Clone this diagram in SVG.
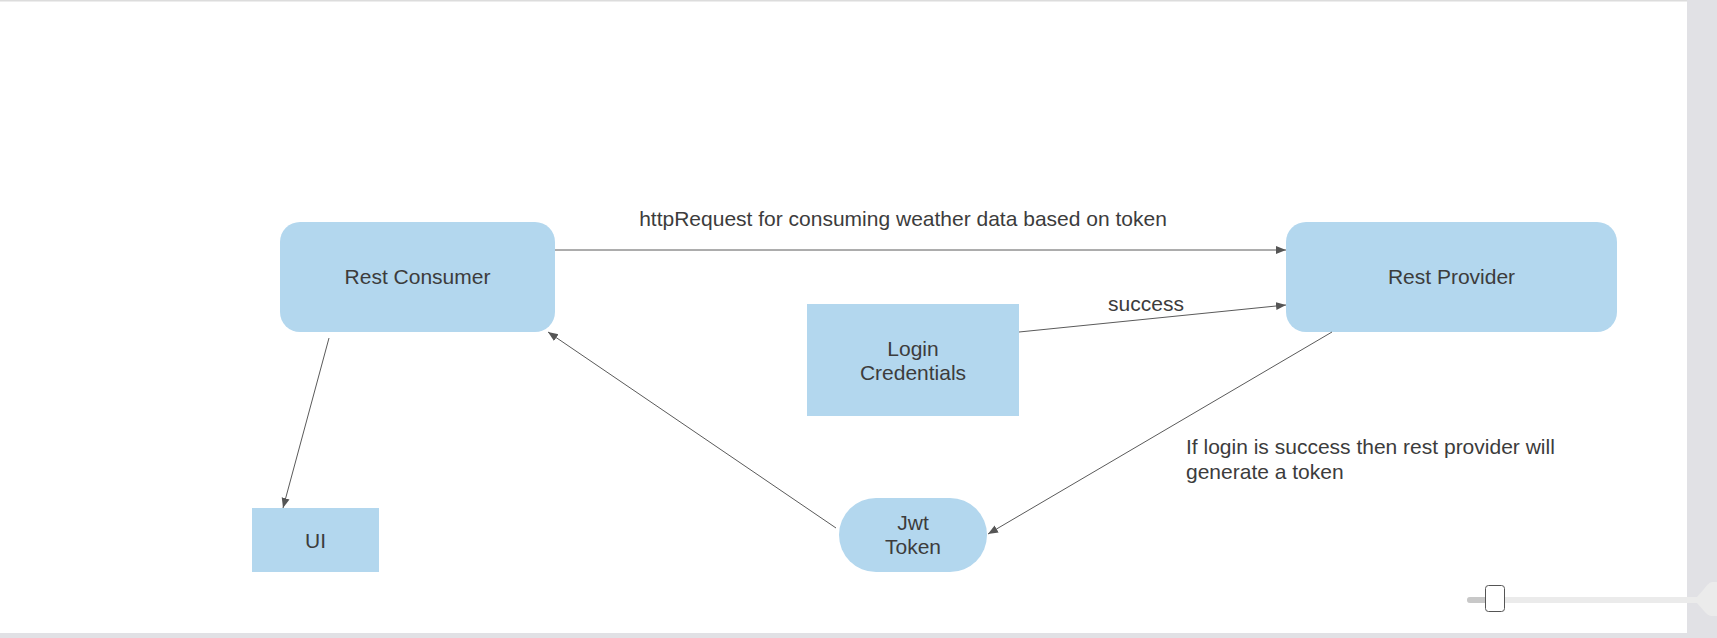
<svg xmlns="http://www.w3.org/2000/svg" width="1717" height="638" viewBox="0 0 1717 638">
<defs>
<marker id="arr" viewBox="0 0 10 10" refX="10" refY="5" markerWidth="10" markerHeight="10" markerUnits="userSpaceOnUse" orient="auto">
<path d="M0,1 L10,5 L0,9 Z" fill="#555"/>
</marker>
</defs>
<style>
.node{fill:#b3d7ee;}
.lbl{font-family:"Liberation Sans",Arial,sans-serif;font-size:21px;fill:#3c3c3c;text-anchor:middle;}
.elbl{font-family:"Liberation Sans",Arial,sans-serif;font-size:21px;fill:#3c3c3c;}
.edge{stroke:#5a5a5a;stroke-width:1;fill:none;marker-end:url(#arr);}
</style>
<rect x="0" y="0" width="1717" height="638" fill="#ffffff"/>
<rect x="0" y="0" width="1687" height="1.5" fill="#dcdcdc"/>
<rect x="1687" y="0" width="30" height="638" fill="#e1e1e5"/>
<rect x="0" y="633" width="1717" height="5" fill="#e1e1e5"/>

<g id="rest-consumer">
<rect class="node" x="280" y="222" width="275" height="110" rx="20"/>
<text class="lbl" x="417.5" y="284">Rest Consumer</text>
</g>
<g id="rest-provider">
<rect class="node" x="1286" y="222" width="331" height="110" rx="20"/>
<text class="lbl" x="1451.5" y="284">Rest Provider</text>
</g>
<g id="login-credentials">
<rect class="node" x="807" y="304" width="212" height="112"/>
<text class="lbl" x="913" y="356">Login</text>
<text class="lbl" x="913" y="380">Credentials</text>
</g>
<g id="ui">
<rect class="node" x="252" y="508" width="127" height="64"/>
<text class="lbl" x="315.5" y="548">UI</text>
</g>
<g id="jwt-token">
<rect class="node" x="839" y="498" width="148" height="74" rx="37"/>
<text class="lbl" x="913" y="530">Jwt</text>
<text class="lbl" x="913" y="554">Token</text>
</g>

<g id="connectors">
<line class="edge" x1="555" y1="250" x2="1286" y2="250"/>
<line class="edge" x1="1019" y1="332" x2="1286" y2="305"/>
<line class="edge" x1="1332" y1="332" x2="988" y2="534"/>
<line class="edge" x1="836" y1="528" x2="548" y2="332"/>
<line class="edge" x1="329" y1="338" x2="283" y2="508"/>
<text class="elbl" x="903" y="226" text-anchor="middle">httpRequest for consuming weather data based on token</text>
<text class="elbl" x="1146" y="311" text-anchor="middle">success</text>
<text class="elbl" x="1186" y="454">If login is success then rest provider will</text>
<text class="elbl" x="1186" y="479">generate a token</text>
</g>

<g id="zoom-slider">
<rect x="1467" y="597" width="235" height="6" rx="3" fill="#ebebeb"/>
<rect x="1467" y="597" width="22" height="6" rx="3" fill="#c8c8c8"/>
<rect x="1485.5" y="585.5" width="19" height="26" rx="3" fill="#ffffff" stroke="#555" stroke-width="1"/>
<path d="M1717,582 L1712,582 Q1708,583 1704,589 L1697,597 L1697,603 L1704,611 Q1708,616 1712,616 L1717,616 Z" fill="#ebebeb"/>
</g>
</svg>
